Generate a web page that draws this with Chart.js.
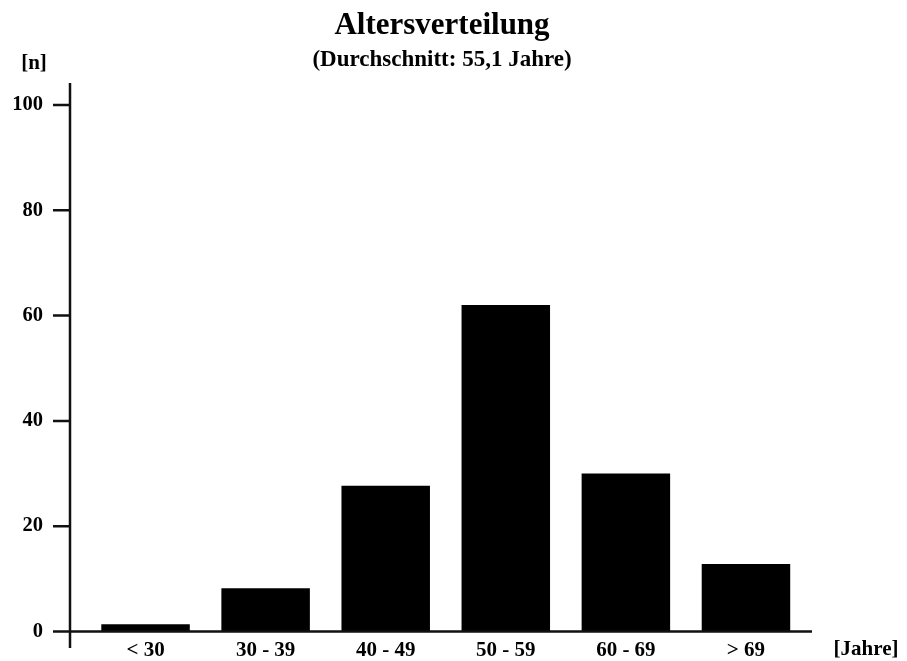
<!DOCTYPE html>
<html>
<head>
<meta charset="utf-8">
<script src="https://cdn.jsdelivr.net/npm/chart.js@4.4.1/dist/chart.umd.min.js"></script>
<style>
  html, body { margin: 0; padding: 0; background: #fff; }
  #wrap { width: 907px; height: 661px; }
</style>
</head>
<body>
<div id="wrap"><canvas id="chart"></canvas></div>
<script>
// Altersverteilung - Werte
const categories = ['< 30', '30 - 39', '40 - 49', '50 - 59', '60 - 69', '> 69'];
const counts = [1.4, 8.2, 27.7, 62, 30, 12.8];
const yTicks = [0, 20, 40, 60, 80, 100];

const titleText = 'Altersverteilung';
const subtitleText = '(Durchschnitt: 55,1 Jahre)';
const yUnit = '[n]';
const xUnit = '[Jahre]';

const FONT = '"Liberation Serif", "Times New Roman", serif';

// axis lines cross each other like in the original, so axes + labels are drawn by hand
const axesPlugin = {
  id: 'axes',
  afterDraw(chart) {
    const { ctx, scales: { x, y } } = chart;
    const y0 = y.getPixelForValue(0);
    const axisX = 70;
    ctx.save();
    ctx.strokeStyle = '#111';
    ctx.lineWidth = 2.5;
    ctx.beginPath();
    ctx.moveTo(axisX, 83);
    ctx.lineTo(axisX, 648);
    ctx.moveTo(53, y0);
    ctx.lineTo(812, y0);
    yTicks.forEach(v => {
      const py = y.getPixelForValue(v);
      ctx.moveTo(53, py);
      ctx.lineTo(axisX, py);
    });
    ctx.stroke();

    ctx.fillStyle = '#000';

    // y tick labels
    ctx.font = 'bold 20.5px ' + FONT;
    ctx.textAlign = 'right';
    ctx.textBaseline = 'middle';
    yTicks.forEach(v => ctx.fillText(String(v), 43, y.getPixelForValue(v)));

    // x tick labels
    ctx.font = 'bold 21px ' + FONT;
    ctx.textAlign = 'center';
    categories.forEach((c, i) => ctx.fillText(c, x.getPixelForValue(i), 651));

    ctx.fillText(yUnit, 34, 64);
    ctx.fillText(xUnit, 866, 650);

    ctx.textBaseline = 'alphabetic';
    ctx.font = 'bold 31px ' + FONT;
    ctx.fillText(titleText, 442, 34);
    ctx.font = 'bold 23px ' + FONT;
    ctx.fillText(subtitleText, 442, 66);
    ctx.restore();
  }
};

new Chart(document.getElementById('chart'), {
  type: 'bar',
  data: {
    labels: categories,
    datasets: [{
      data: counts,
      backgroundColor: '#000',
      borderWidth: 0,
      barPercentage: 0.737,
      categoryPercentage: 1,
    }]
  },
  options: {
    responsive: true,
    maintainAspectRatio: false,
    animation: false,
    layout: { padding: { top: 105, right: 101, bottom: 29.5, left: 85.5 } },
    plugins: {
      legend: { display: false },
      tooltip: { enabled: false },
    },
    scales: {
      x: { display: false, offset: true },
      y: { display: false, min: 0, max: 100 }
    }
  },
  plugins: [axesPlugin]
});
</script>
</body>
</html>
